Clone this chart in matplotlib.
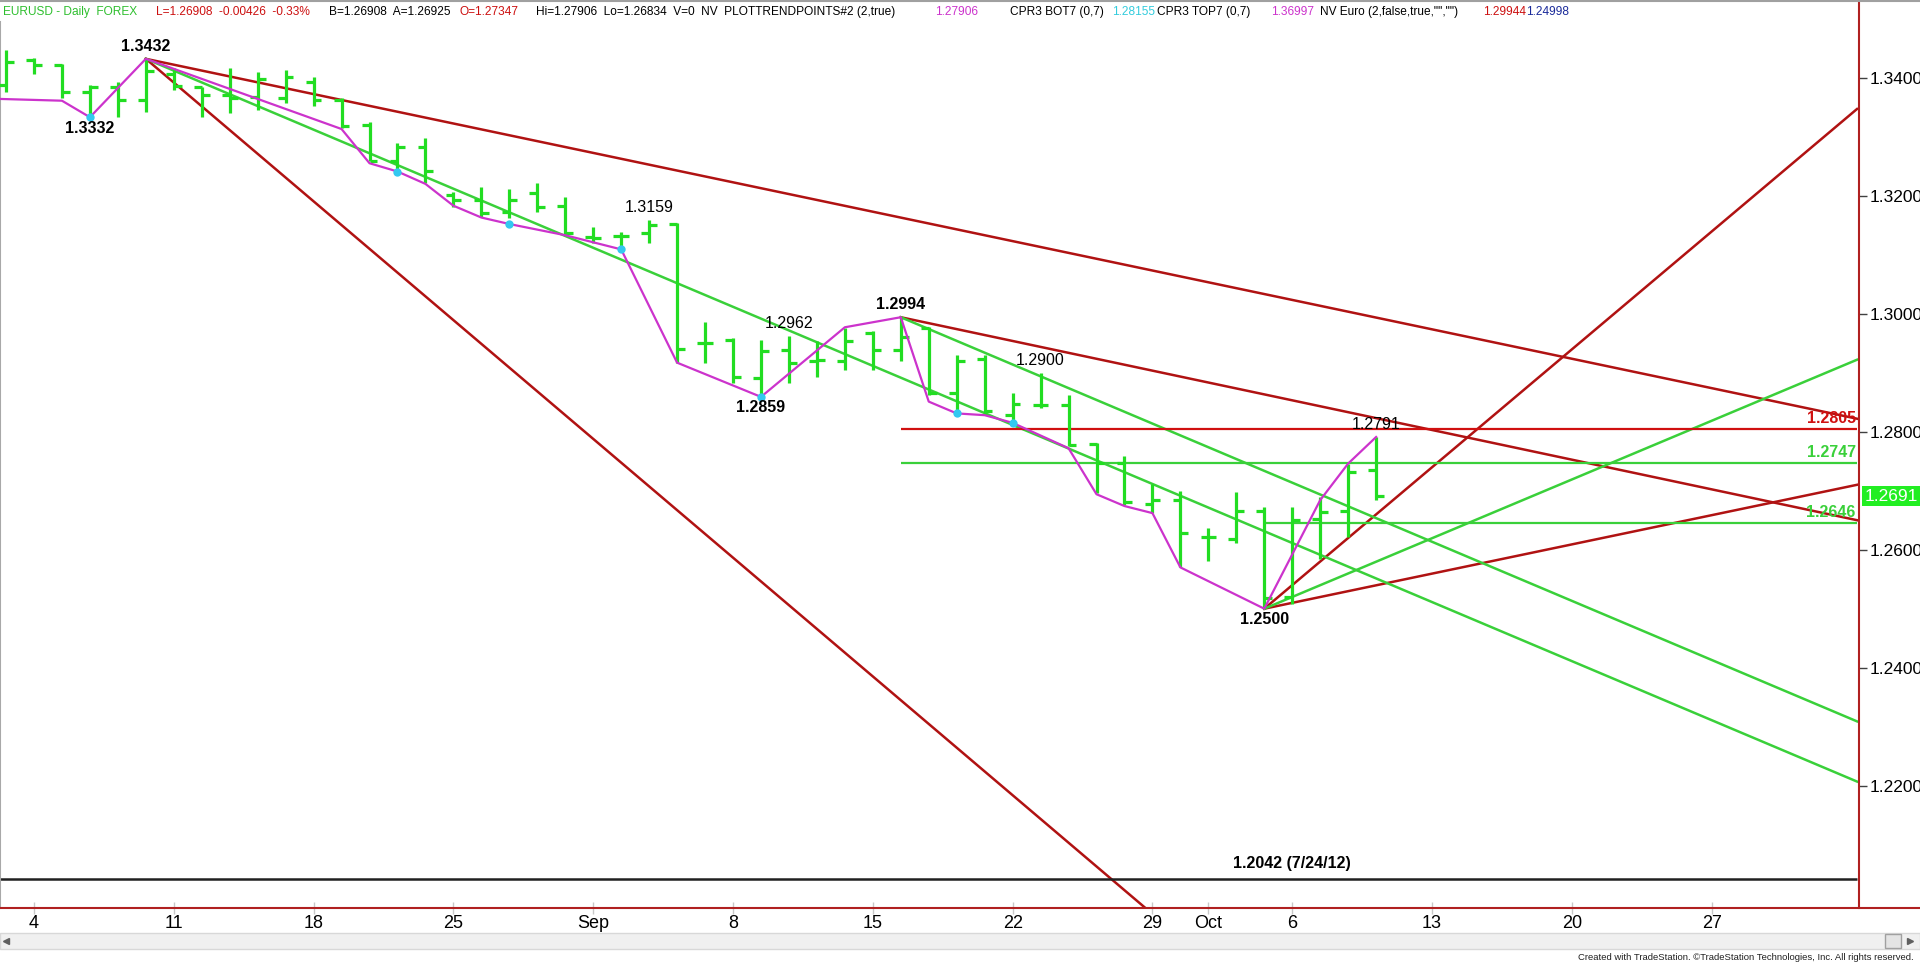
import numpy as np
import pandas as pd
import matplotlib
matplotlib.use('Agg')
import matplotlib.pyplot as plt
from matplotlib.lines import Line2D
from matplotlib.patches import Rectangle

# trading days, Aug 1 2014 is index 0
days = pd.bdate_range('2014-08-01', '2014-11-10')

opens = [1.3388, 1.3430, 1.3421, 1.3376, 1.3385, 1.3363, 1.3407, 1.3385, 1.3370, 1.3368,
         1.3365, 1.3392, 1.3363, 1.3320, 1.3258, 1.3282, 1.3201, 1.3192, 1.3172, 1.3204,
         1.3182, 1.3130, 1.3132, 1.3136, 1.3152, 1.2950, 1.2955, 1.2891, 1.2938, 1.2920,
         1.2919, 1.2968, 1.2938, 1.2976, 1.2865, 1.2924, 1.2828, 1.2845, 1.2845, 1.2779,
         1.2747, 1.2677, 1.2685, 1.2622, 1.2618, 1.2666, 1.2520, 1.2652, 1.2666, 1.27347]
highs = [1.3447, 1.3433, 1.3424, 1.3388, 1.3393, 1.3432, 1.3416, 1.3385, 1.3416, 1.3410,
         1.3413, 1.3401, 1.3365, 1.3325, 1.3289, 1.3297, 1.3207, 1.3215, 1.3211, 1.3221,
         1.3197, 1.3147, 1.3139, 1.3159, 1.3153, 1.2986, 1.2958, 1.2956, 1.2962, 1.2953,
         1.2975, 1.2970, 1.2994, 1.2978, 1.2930, 1.2930, 1.2865, 1.2900, 1.2862, 1.2780,
         1.2759, 1.2712, 1.2700, 1.2636, 1.2697, 1.2673, 1.2673, 1.2690, 1.2746, 1.27906]
lows = [1.3376, 1.3407, 1.3365, 1.3332, 1.3334, 1.3342, 1.3379, 1.3334, 1.3340, 1.3345,
        1.3357, 1.3352, 1.3314, 1.3258, 1.3238, 1.3221, 1.3181, 1.3164, 1.3163, 1.3172,
        1.3133, 1.3119, 1.3109, 1.3119, 1.2916, 1.2916, 1.2883, 1.2859, 1.2882, 1.2893,
        1.2905, 1.2905, 1.2919, 1.2862, 1.2831, 1.2828, 1.2814, 1.2840, 1.2775, 1.2696,
        1.2676, 1.2662, 1.2571, 1.2580, 1.2611, 1.2500, 1.2508, 1.2585, 1.2622, 1.26834]
closes = [1.3427, 1.3421, 1.3376, 1.3384, 1.3362, 1.3412, 1.3386, 1.3371, 1.3366, 1.3398,
          1.3401, 1.3362, 1.3318, 1.3259, 1.3282, 1.3242, 1.3192, 1.3170, 1.3192, 1.3181,
          1.3136, 1.3128, 1.3132, 1.3150, 1.2941, 1.2950, 1.2892, 1.2936, 1.2916, 1.2922,
          1.2953, 1.2938, 1.2961, 1.2865, 1.2920, 1.2835, 1.2847, 1.2845, 1.2777, 1.2747,
          1.2681, 1.2684, 1.2628, 1.2622, 1.2666, 1.2518, 1.2651, 1.2664, 1.2731, 1.26908]

# swing line (PLOTTRENDPOINTS)
zz_day = [-0.22, 2, 3, 5, 12, 13, 14, 15, 16, 17, 18, 20, 22, 24, 27, 30, 32, 33, 34, 35,
          36, 38, 39, 40, 41, 42, 45, 47, 48, 49]
zz_price = [1.3364, 1.3361, 1.3333, 1.3432, 1.3313, 1.3255, 1.3241, 1.3220, 1.3183, 1.3163,
            1.3152, 1.3133, 1.3109, 1.2917, 1.2859, 1.2977, 1.2994, 1.2851, 1.2831, 1.2828,
            1.2815, 1.2772, 1.2694, 1.2674, 1.2662, 1.2570, 1.2500, 1.2684, 1.2746, 1.2791]
dot_day = [3, 14, 18, 22, 27, 34, 36]
dot_price = [1.3333, 1.3241, 1.3152, 1.3109, 1.2859, 1.2831, 1.2815]

# swing labels
hi_day = [5, 23, 28, 32, 37, 49]
hi_price = [1.3432, 1.3159, 1.2962, 1.2994, 1.2900, 1.2791]
lo_day = [3, 27, 45]
lo_price = [1.3332, 1.2859, 1.2500]

# trend lines: start day, start price, price at right edge
red_start = [5, 5, 32, 45, 45]
red_from = [1.3432, 1.3432, 1.2994, 1.2500, 1.2500]
red_to = [1.0968, 1.2822, 1.2650, 1.3347, 1.2710]
green_start = [5, 32, 45]
green_from = [1.3432, 1.2994, 1.2500]
green_to = [1.2207, 1.2309, 1.2922]

# horizontal levels
lvl_price = [1.2805, 1.2747, 1.2646]
lvl_start = [32, 32, 45]
old_low = 1.2042
last_price = 1.2691

yticks = [1.22, 1.24, 1.26, 1.28, 1.30, 1.32, 1.34]
tick_days = ['2014-08-04', '2014-08-11', '2014-08-18', '2014-08-25', '2014-09-01',
             '2014-09-08', '2014-09-15', '2014-09-22', '2014-09-29', '2014-10-01',
             '2014-10-06', '2014-10-13', '2014-10-20', '2014-10-27']
tick_labels = ['4', '11', '18', '25', 'Sep', '8', '15', '22', '29', 'Oct', '6', '13', '20', '27']

GREEN = '#22dd22'
LINE_GREEN = '#3ad03a'
DARK_RED = '#b01212'
RED = '#d01010'
MAGENTA = '#cc33cc'
CYAN = '#33c8f0'
plt.rcParams['font.family'] = ['Liberation Sans', 'DejaVu Sans']

W, H = 1920, 964
fig = plt.figure(figsize=(W / 100, H / 100), dpi=100)
ax = fig.add_axes([0, (H - 908) / H, 1859 / W, (908 - 22) / H])

x = np.arange(len(opens))
END = 66.2

# bars
ax.vlines(x, lows, highs, color=GREEN, lw=2.3, zorder=3)
ax.hlines(opens, x - 0.28, x, color=GREEN, lw=2.3, zorder=3)
ax.hlines(closes, x, x + 0.28, color=GREEN, lw=2.3, zorder=3)

# trend lines
for s, a, b in zip(red_start, red_from, red_to):
    ax.plot([s, END], [a, b], color=DARK_RED, lw=1.8, zorder=2)
for s, a, b in zip(green_start, green_from, green_to):
    ax.plot([s, END], [a, b], color=LINE_GREEN, lw=1.8, zorder=2)

ax.hlines(lvl_price[0], lvl_start[0], END, color=RED, lw=1.6, zorder=2)
ax.hlines(lvl_price[1:], lvl_start[1:], END, color=LINE_GREEN, lw=1.6, zorder=2)
ax.hlines(old_low, -0.3, END, color='#202020', lw=1.8, zorder=2)

ax.plot(zz_day, zz_price, color=MAGENTA, lw=1.6, zorder=4)
ax.plot(dot_day, dot_price, 'o', color=CYAN, ms=6, mec='none', zorder=5)

# swing labels
for d, p in zip(hi_day, hi_price):
    bold = p in (1.3432, 1.2994)
    ax.annotate(f'{p:.4f}', (d, p), xytext=(0, 9), textcoords='offset points',
                ha='center', va='center', fontsize=11.5,
                fontweight='bold' if bold else 'normal', color='black', zorder=6)
for d, p in zip(lo_day, lo_price):
    ax.annotate(f'{p:.4f}', (d, p), xytext=(0, -8), textcoords='offset points',
                ha='center', va='center', fontsize=11.5, fontweight='bold',
                color='black', zorder=6)
ax.annotate(f'{old_low:.4f} (7/24/12)', (46, old_low), xytext=(0, 11),
            textcoords='offset points', ha='center', va='center', fontsize=11.5,
            fontweight='bold', color='black')

for p, c in zip(lvl_price, [RED, LINE_GREEN, LINE_GREEN]):
    ax.annotate(f'{p:.4f}', (END, p), xytext=(-1, 7.5), textcoords='offset points',
                ha='right', va='center', fontsize=11.5, fontweight='bold', color=c, zorder=6)

# last price box
ax.annotate(f'{last_price:.4f}', (1.0, last_price), xycoords=('axes fraction', 'data'),
            xytext=(4, 0), textcoords='offset points', ha='left', va='center',
            fontsize=12.5, color='white', annotation_clip=False,
            bbox=dict(boxstyle='square,pad=0.12', fc='#22ee22', ec='none'))

ax.set_xlim(-0.216, 66.27)
ax.set_ylim(1.19927, 1.34944)

ax.yaxis.tick_right()
ax.set_yticks(yticks)
ax.set_yticklabels([f'{t:.4f}' for t in yticks], fontsize=12.5)
ax.tick_params(axis='y', length=6, width=1, color='#404040', pad=1.5)

tick_pos = [days.get_loc(pd.Timestamp(d)) for d in tick_days]
ax.set_xticks(tick_pos)
ax.set_xticklabels(tick_labels, fontsize=13)
ax.tick_params(axis='x', direction='inout', length=8, width=1, color='#c8c8c8', pad=1)

for side in ['top', 'right', 'bottom']:
    ax.spines[side].set_visible(False)
ax.spines['left'].set_color('#a8a8a8')
ax.spines['left'].set_linewidth(1.5)

# frame lines of the chart window
fig.add_artist(Line2D([0, 1], [(H - 908) / H] * 2, color='#b02020', lw=1.5))
fig.add_artist(Line2D([1859 / W] * 2, [(H - 908) / H, 1], color='#b02020', lw=1.5))
fig.add_artist(Line2D([0, 1], [1 - 1 / H] * 2, color='#a0a0a0', lw=1.5))

# scroll bar
fig.add_artist(Rectangle((0, (H - 949) / H), 1, 16 / H, transform=fig.transFigure,
                         fc='#f0f0f0', ec='#d8d8d8', lw=1))
fig.add_artist(Rectangle((1885 / W, (H - 948) / H), 16 / W, 14 / H, transform=fig.transFigure,
                         fc='#e4e4e4', ec='#a0a0a0', lw=1))
fig.add_artist(Line2D([6 / W], [(H - 941) / H], marker='<', ms=4, color='#606060', lw=0))
fig.add_artist(Line2D([1910 / W], [(H - 941) / H], marker='>', ms=4, color='#606060', lw=0))

fig.text(1914 / W, (H - 958) / H,
         'Created with TradeStation. \u00a9TradeStation Technologies, Inc. All rights reserved.',
         ha='right', va='center', fontsize=6.8, color='#202020')

# header line
header = [
    ('EURUSD - Daily  FOREX', '#2fbf2f', 3),
    ('L=1.26908  -0.00426  -0.33%', '#cc1010', 156),
    ('B=1.26908  A=1.26925', 'black', 329),
    ('O=1.27347', '#cc1010', 459),
    ('Hi=1.27906  Lo=1.26834  V=0  NV  PLOTTRENDPOINTS#2 (2,true)', 'black', 536),
    ('1.27906', '#cc33cc', 935),
    ('CPR3 BOT7 (0,7)', 'black', 1010),
    ('1.28155', '#33ccdd', 1112),
    ('CPR3 TOP7 (0,7)', 'black', 1157),
    ('1.36997', '#cc33cc', 1271),
    ('NV Euro (2,false,true,"","")', 'black', 1320),
    ('1.29944', '#cc1010', 1483),
    ('1.24998', '#1a2a9a', 1526),
]
for txt, col, px in header:
    fig.text(px / W, (H - 12) / H, txt, color=col, fontsize=8.6, ha='left', va='center')

fig.savefig('out.png', dpi=100, facecolor='white')
